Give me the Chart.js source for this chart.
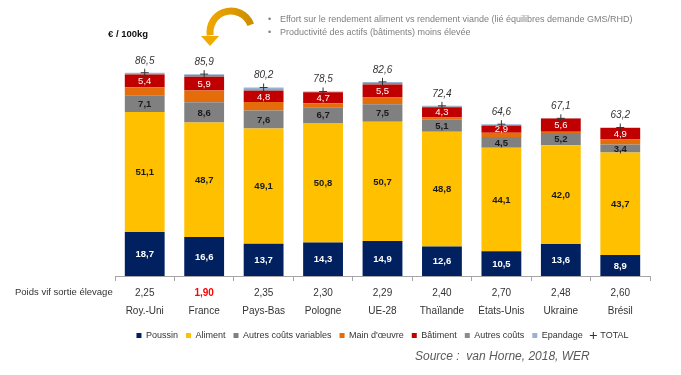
<!DOCTYPE html>
<html>
<head>
<meta charset="utf-8">
<script src="https://cdn.jsdelivr.net/npm/chart.js@4.4.1/dist/chart.umd.min.js"></script>
<style>
  html, body { margin: 0; padding: 0; background: #fff; }
  #wrap { width: 681px; height: 375px; }
</style>
</head>
<body>
<div id="wrap"><canvas id="chart"></canvas></div>
<script>
const FONT = '"Liberation Sans Narrow", "Arial Narrow", "Liberation Sans", Arial, sans-serif';

// données (€ / 100kg)
const countries = ['Roy.-Uni', 'France', 'Pays-Bas', 'Pologne', 'UE-28', 'Thaïlande', 'États-Unis', 'Ukraine', 'Brésil'];
const weights = ['2,25', '1,90', '2,35', '2,30', '2,29', '2,40', '2,70', '2,48', '2,60'];
const poussin = [18.7, 16.6, 13.7, 14.3, 14.9, 12.6, 10.5, 13.6, 8.9];
const aliment = [51.1, 48.7, 49.1, 50.8, 50.7, 48.8, 44.1, 42.0, 43.7];
const autresVariables = [7.1, 8.6, 7.6, 6.7, 7.5, 5.1, 4.5, 5.2, 3.4];
const mainOeuvre = [3.4, 5.0, 3.6, 1.7, 2.9, 1.0, 1.9, 0.6, 2.1];
const batiment = [5.4, 5.9, 4.8, 4.7, 5.5, 4.3, 2.9, 5.6, 4.9];
const autresCouts = [0.5, 0.7, 0.7, 0.2, 0.6, 0.3, 0.4, 0.1, 0.1];
const epandage = [0.3, 0.4, 0.7, 0.1, 0.5, 0.3, 0.3, 0.0, 0.1];
const totals = [86.5, 85.9, 80.2, 78.5, 82.6, 72.4, 64.6, 67.1, 63.2];

const notes = [
  'Effort sur le rendement aliment vs rendement viande (lié équilibres demande GMS/RHD)',
  'Productivité des actifs (bâtiments) moins élevée'
];
const highlight = countries.indexOf('France');

const fmt = v => v.toFixed(1).replace('.', ',');

function bar(label, data, color) {
  return { type: 'bar', label, data, backgroundColor: color, stack: 'couts', pointStyle: 'rect', borderWidth: 0 };
}

// étiquettes dans les barres : [index dataset, couleur, gras]
const segLabels = [[0, '#fff', true], [1, '#1a1a1a', true], [2, '#1a1a1a', true], [4, '#fff', false]];

const decorPlugin = {
  id: 'decor',
  afterDatasetsDraw(chart) {
    const ctx = chart.ctx;
    const area = chart.chartArea;
    ctx.save();
    ctx.textAlign = 'center';
    ctx.textBaseline = 'middle';

    segLabels.forEach(([di, color, bold]) => {
      const meta = chart.getDatasetMeta(di);
      ctx.fillStyle = color;
      ctx.font = (bold ? 'bold ' : '') + '9.5px ' + FONT;
      meta.data.forEach((el, i) => {
        ctx.fillText(fmt(chart.data.datasets[di].data[i]), el.x, (el.y + el.base) / 2 + 0.5);
      });
    });

    // totaux
    const tMeta = chart.getDatasetMeta(7);
    ctx.fillStyle = '#333';
    ctx.font = 'italic 10px ' + FONT;
    tMeta.data.forEach((pt, i) => {
      ctx.fillText(fmt(totals[i]), pt.x, pt.y - 12);
    });

    // titre axe, ligne poids
    ctx.textAlign = 'left';
    ctx.fillStyle = '#111';
    ctx.font = 'bold 9.5px ' + FONT;
    ctx.fillText('€ / 100kg', 108, 34);
    ctx.fillStyle = '#333';
    ctx.font = '9.5px ' + FONT;
    ctx.fillText('Poids vif sortie élevage', 15, area.bottom + 16);

    // notes
    ctx.fillStyle = '#7f7f7f';
    ctx.font = '9px ' + FONT;
    notes.forEach((t, k) => {
      ctx.fillText('•', 268, 20 + k * 13);
      ctx.fillText(t, 280, 20 + k * 13);
    });

    // source
    ctx.fillStyle = '#595959';
    ctx.font = 'italic 12px "Liberation Sans", Arial, sans-serif';
    ctx.fillText('Source :  van Horne, 2018, WER', 415, 357);

    // flèche
    const grad = ctx.createLinearGradient(205, 0, 258, 0);
    grad.addColorStop(0, '#F2A900');
    grad.addColorStop(1, '#C88A00');
    ctx.strokeStyle = grad;
    ctx.lineWidth = 7;
    ctx.beginPath();
    ctx.arc(231, 32, 21, -0.35, -3.3, true);
    ctx.stroke();
    ctx.fillStyle = '#F2A900';
    ctx.beginPath();
    ctx.moveTo(201, 36);
    ctx.lineTo(219, 36);
    ctx.lineTo(210, 46);
    ctx.closePath();
    ctx.fill();

    ctx.restore();
  }
};

new Chart(document.getElementById('chart'), {
  data: {
    labels: weights,
    datasets: [
      bar('Poussin', poussin, '#002060'),
      bar('Aliment', aliment, '#FFC000'),
      bar('Autres coûts variables', autresVariables, '#808080'),
      bar("Main d'œuvre", mainOeuvre, '#E46C0A'),
      bar('Bâtiment', batiment, '#C00000'),
      bar('Autres coûts', autresCouts, '#8C8C8C'),
      bar('Epandage', epandage, '#95B3D7'),
      {
        type: 'line', label: 'TOTAL', data: totals, stack: 'total', order: -1,
        showLine: false, pointStyle: 'cross', pointRadius: 4, pointHoverRadius: 4,
        borderColor: '#333', backgroundColor: '#333', borderWidth: 1
      }
    ]
  },
  options: {
    responsive: true,
    maintainAspectRatio: false,
    animation: false,
    layout: { padding: { top: 41, left: 115, right: 31, bottom: 25 } },
    datasets: { bar: { barPercentage: 0.67, categoryPercentage: 1 } },
    plugins: {
      legend: {
        position: 'bottom',
        fullSize: false,
        labels: {
          usePointStyle: true,
          boxWidth: 5, boxHeight: 5,
          padding: 8,
          color: '#333',
          font: { family: FONT, size: 9 },
          sort: (a, b) => a.datasetIndex - b.datasetIndex
        }
      },
      tooltip: { enabled: false }
    },
    scales: {
      x: {
        stacked: true,
        weight: 0,
        grid: { display: true, drawOnChartArea: false, tickLength: 5, color: '#A6A6A6' },
        border: { display: true, color: '#A6A6A6' },
        ticks: {
          padding: 6,
          color: ctx => ctx.index === highlight ? '#FF0000' : '#333',
          font: ctx => ({ family: FONT, size: 10, weight: ctx.index === highlight ? 'bold' : 'normal' })
        }
      },
      x2: {
        type: 'category',
        labels: countries,
        position: 'bottom',
        weight: 1,
        offset: true,
        grid: { display: false, drawTicks: false },
        border: { display: false },
        title: { display: true, text: '', font: { size: 2 }, padding: { top: 3.6, bottom: 0 } },
        ticks: { padding: 0, color: '#333', font: { family: FONT, size: 10 } }
      },
      y: {
        stacked: true,
        display: false,
        min: 0,
        max: 100
      }
    }
  },
  plugins: [decorPlugin]
});
</script>
</body>
</html>
